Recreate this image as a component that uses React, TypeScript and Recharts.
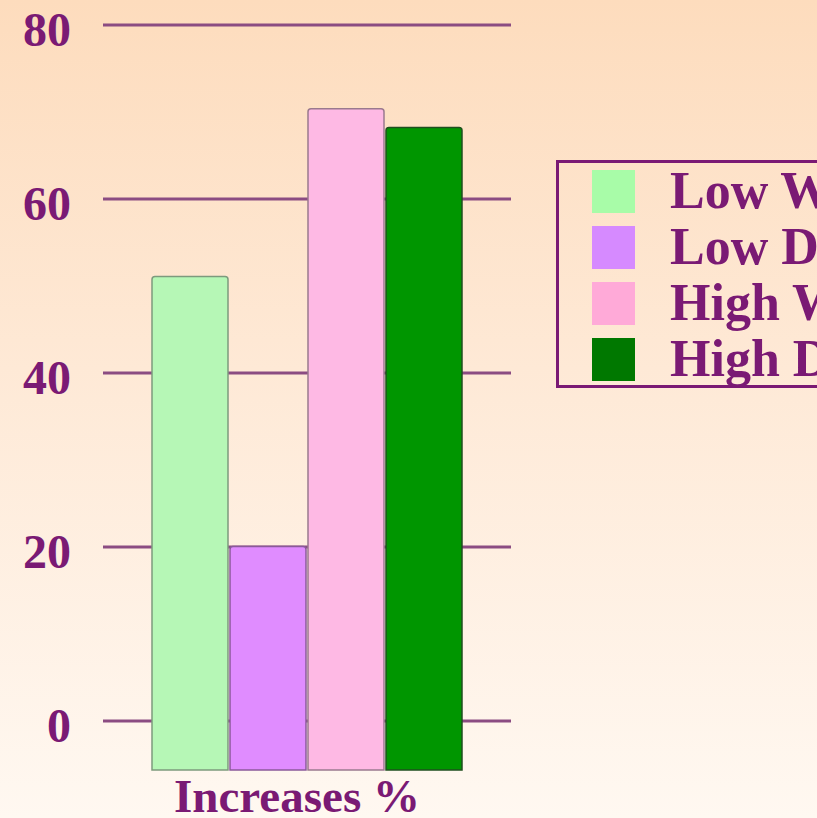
import { Bar, CartesianGrid, ComposedChart, Legend, Line, XAxis, YAxis } from "recharts"

const categories = ["Increases %"]
const seriesNames = ["Low Wealth", "Low Density", "High Wealth", "High Density"]
const lowWealth = [53]
const lowDensity = [24]
const highWealth = [71]
const highDensity = [69]
const yTicks = [0, 20, 40, 60, 80]

const barColors = ["#b6f7b6", "#e08cff", "#feb9e4", "#009600"]
const barStrokes = ["#7d9a7d", "#8a5a9a", "#9a7a8e", "#1f4f1f"]
const swatchColors = ["#a8fca8", "#d68aff", "#ffaad8", "#007800"]

const data = categories.map((name, i) => ({
  name,
  lowWealth: lowWealth[i],
  lowDensity: lowDensity[i],
  highWealth: highWealth[i],
  highDensity: highDensity[i],
}))

const keys = ["lowWealth", "lowDensity", "highWealth", "highDensity"]

const purple = "#7a1a74"
const font = "'Liberation Serif', 'Times New Roman', serif"
const yLabelRight = 71

function YTick(props: any) {
  const { y, payload } = props
  return (
    <text
      x={yLabelRight}
      y={y + 4}
      textAnchor="end"
      dominantBaseline="central"
      fill={purple}
      fontFamily={font}
      fontWeight="bold"
      fontSize={48}
    >
      {payload.value}
    </text>
  )
}

function XTick(props: any) {
  const { x, y, payload } = props
  return (
    <text
      x={x - 10}
      y={y + 34}
      textAnchor="middle"
      fill={purple}
      fontFamily={font}
      fontWeight="bold"
      fontSize={47}
    >
      {payload.value}
    </text>
  )
}

function LegendBox(props: any) {
  const items = (props.payload || [])
    .filter((it: any) => seriesNames.includes(it.value))
    .sort((a: any, b: any) => seriesNames.indexOf(a.value) - seriesNames.indexOf(b.value))
  return (
    <div
      style={{
        border: `3px solid ${purple}`,
        width: 320,
        height: 228,
        boxSizing: "border-box",
      }}
    >
      {items.map((item: any) => {
        const i = seriesNames.indexOf(item.value)
        return (
          <div key={item.value} style={{ display: "flex", alignItems: "center", height: 56 }}>
            <div
              style={{
                width: 43,
                height: 43,
                flexShrink: 0,
                marginLeft: 33,
                background: swatchColors[i],
              }}
            />
            <span
              style={{
                marginLeft: 35,
                color: purple,
                fontFamily: font,
                fontWeight: "bold",
                fontSize: 52,
                whiteSpace: "nowrap",
                lineHeight: "56px",
              }}
            >
              {item.value}
            </span>
          </div>
        )
      })}
    </div>
  )
}

export default function App() {
  return (
    <div
      style={{
        width: 817,
        height: 818,
        position: "relative",
        overflow: "hidden",
        background: "linear-gradient(180deg, #fddcbd 0%, #fee9d6 45%, #fff8f1 100%)",
      }}
    >
      <style>
        {"body{margin:0;overflow:hidden} .ghost-line, .recharts-line, .recharts-line-dots{display:none}"}
      </style>
      <ComposedChart
        width={817}
        height={818}
        data={data}
        margin={{ top: 25, right: 306, left: 0, bottom: 0 }}
        barCategoryGap={49}
        barGap={2}
      >
        <CartesianGrid
          yAxisId="grid"
          vertical={false}
          syncWithTicks
          stroke="#8b4c82"
          strokeWidth={3}
        />
        <XAxis
          dataKey="name"
          axisLine={false}
          tickLine={false}
          height={48}
          tick={<XTick />}
        />
        <YAxis
          yAxisId="grid"
          type="number"
          domain={[-5.63, 80]}
          allowDataOverflow
          ticks={yTicks}
          width={103}
          axisLine={false}
          tickLine={false}
          tick={<YTick />}
        />
        <YAxis yAxisId="bars" type="number" domain={[0, 80]} hide />
        <Legend
          layout="horizontal"
          verticalAlign="middle"
          align="center"
          wrapperStyle={{ left: 556, top: 160, width: 320, height: 228 }}
          content={<LegendBox />}
        />
        {keys.map((k, i) => (
          <Bar
            key={k}
            yAxisId="bars"
            dataKey={k}
            name={seriesNames[i]}
            fill={barColors[i]}
            stroke={barStrokes[i]}
            strokeWidth={1.5}
            radius={[3, 3, 0, 0]}
            isAnimationActive={false}
          />
        ))}
        <Line
          className="ghost-line"
          yAxisId="grid"
          dataKey="lowWealth"
          stroke="none"
          fill="none"
          strokeOpacity={0}
          dot={false}
          activeDot={false}
          legendType="none"
          isAnimationActive={false}
        />
      </ComposedChart>
    </div>
  )
}
